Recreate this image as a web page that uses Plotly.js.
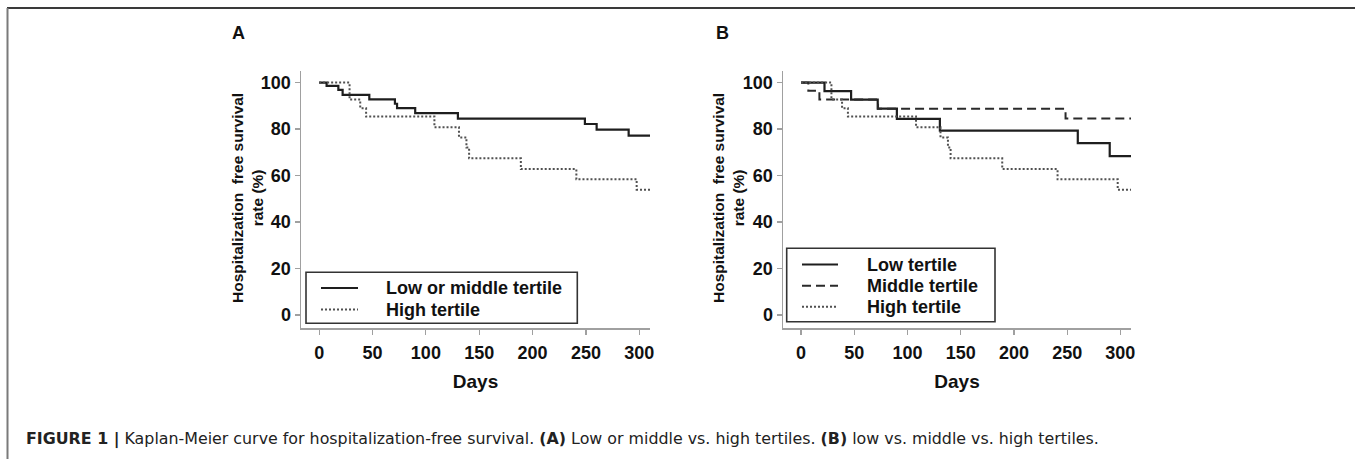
<!DOCTYPE html>
<html>
<head>
<meta charset="utf-8">
<script src="https://cdn.plot.ly/plotly-3.0.1.min.js"></script>
<style>
  html, body { margin: 0; padding: 0; background: #ffffff; }
  #chart { width: 1355px; height: 459px; }
</style>
</head>
<body>
<div id="chart"></div>
<script>
// ---------- Data ----------
// Panel A
const daysLowMid = [0, 7, 18, 22, 47, 71, 73, 90, 130, 249, 260, 290, 310];
const survLowMid = [100, 98.6, 96.9, 94.7, 92.8, 90.9, 89.0, 86.9, 84.5, 82.2, 79.8, 77.2, 77.2];
const daysHigh = [0, 28.5, 38.5, 44, 108, 131, 138, 140.5, 189, 241, 297.5, 310];
const survHigh = [100, 92.7, 89.0, 85.4, 80.8, 76.4, 72.1, 67.4, 62.8, 58.4, 53.9, 53.9];
// Panel B
const daysLow = [0, 22, 47, 72, 90, 130.4, 260, 290, 310];
const survLow = [100, 96.3, 92.7, 88.8, 84.4, 79.3, 74.0, 68.4, 68.4];
const daysMid = [0, 6.8, 17.2, 72.3, 248.5, 310];
const survMid = [100, 96.5, 92.7, 88.8, 84.6, 84.6];

const xTicks = [0, 50, 100, 150, 200, 250, 300];
const yTicks = [0, 20, 40, 60, 80, 100];
const namesA = ['Low or middle tertile', 'High tertile'];
const namesB = ['Low tertile', 'Middle tertile', 'High tertile'];
const xTitle = 'Days';
const yTitle = 'Hospitalization&nbsp; free survival<br>rate (%)';
const caption = '<b>FIGURE 1 |</b> Kaplan-Meier curve for hospitalization-free survival. <b>(A)</b> Low or middle vs. high tertiles. <b>(B)</b> low vs. middle vs. high tertiles.';

// ---------- Layout helpers ----------
const W = 1355, H = 459;
const px = v => v / W;
const py = v => 1 - v / H;
const FONT = 'Arial, "Liberation Sans", Helvetica, sans-serif';
const CAPFONT = '"DejaVu Sans", Verdana, sans-serif';

const SOLID = {color: '#1e1e1e', width: 2.2, dash: 'solid'};
const DOT = {color: '#505050', width: 2, dash: '2px,2px'};
const DASH = {color: '#2a2a2a', width: 2, dash: '9px,5px'};

function km(x, y, name, line, xa, ya) {
  return {x: x, y: y, name: name, type: 'scatter', mode: 'lines',
          line: Object.assign({shape: 'hv'}, line), xaxis: xa, yaxis: ya,
          hoverinfo: 'x+y+name'};
}

const traces = [
  km(daysLowMid, survLowMid, namesA[0], SOLID, 'x', 'y'),
  km(daysHigh, survHigh, namesA[1], DOT, 'x', 'y'),
  km(daysLow, survLow, namesB[0], SOLID, 'x2', 'y2'),
  km(daysMid, survMid, namesB[1], DASH, 'x2', 'y2'),
  km(daysHigh, survHigh, namesB[2], DOT, 'x2', 'y2')
];

const axisCommon = {
  showline: true, linecolor: '#a0a0a0', linewidth: 1.5,
  ticks: 'outside', ticklen: 5, tickwidth: 1.2, tickcolor: '#a0a0a0',
  showgrid: false, zeroline: false, fixedrange: true,
  tickfont: {family: FONT, size: 18, weight: 'bold', color: '#111'}
};
const xCommon = Object.assign({}, axisCommon, {
  range: [-17, 310], tickvals: xTicks, ticktext: xTicks.map(String), ticklabelstandoff: 3,
  title: {text: xTitle, font: {family: FONT, size: 19, weight: 'bold', color: '#111'}, standoff: 12}
});
const yCommon = Object.assign({}, axisCommon, {
  range: [-5.6, 105], tickvals: yTicks, ticktext: yTicks.map(String)
});
const yDom = [py(328), py(71)];

const shapes = [];
const annotations = [];

// Panel letters
annotations.push({xref: 'paper', yref: 'paper', x: px(238), y: py(33), text: '<b>A</b>', showarrow: false,
  font: {family: FONT, size: 18, color: '#111'}, xanchor: 'center', yanchor: 'middle'});
annotations.push({xref: 'paper', yref: 'paper', x: px(722), y: py(33), text: '<b>B</b>', showarrow: false,
  font: {family: FONT, size: 18, color: '#111'}, xanchor: 'center', yanchor: 'middle'});

// Y titles
[247, 728].forEach(cx => {
  annotations.push({xref: 'paper', yref: 'paper', x: px(cx), y: py(198), text: yTitle, textangle: -90,
    showarrow: false, font: {family: FONT, size: 15.5, weight: 'bold', color: '#111'},
    xanchor: 'center', yanchor: 'middle', align: 'center'});
});

// Manual legends
function legend(box, sx0, sx1, tx, rows, names, lines) {
  shapes.push({type: 'rect', xref: 'paper', yref: 'paper', x0: px(box[0]), x1: px(box[1]), y0: py(box[2]), y1: py(box[3]),
    line: {color: '#333', width: 1.6}, fillcolor: 'rgba(255,255,255,1)', layer: 'above'});
  names.forEach((n, i) => {
    shapes.push({type: 'line', xref: 'paper', yref: 'paper', x0: px(sx0), x1: px(sx1), y0: py(rows[i]), y1: py(rows[i]),
      line: {color: lines[i].color, width: lines[i].width, dash: lines[i].dash}, layer: 'above'});
    annotations.push({xref: 'paper', yref: 'paper', x: px(tx), y: py(rows[i]), text: n, showarrow: false,
      xanchor: 'left', yanchor: 'middle', font: {family: FONT, size: 18, weight: 'bold', color: '#111'}});
  });
}
legend([306, 577.3, 272.3, 323.3], 321, 358, 384, [288, 309.5], namesA, [SOLID, DOT]);
legend([786.7, 995, 248.3, 321.7], 802, 838, 865, [264.5, 285.7, 306.7], namesB, [SOLID, DASH, DOT]);

// Frame lines
shapes.push({type: 'line', xref: 'paper', yref: 'paper', x0: px(7), x1: px(1355), y0: py(8), y1: py(8),
  line: {color: '#3a3a3a', width: 2}});
shapes.push({type: 'line', xref: 'paper', yref: 'paper', x0: px(7.5), x1: px(7.5), y0: py(8), y1: py(459),
  line: {color: '#7a7a7a', width: 2}});

// Caption
annotations.push({xref: 'paper', yref: 'paper', x: px(24), y: py(439), text: caption, showarrow: false,
  xanchor: 'left', yanchor: 'middle', font: {family: CAPFONT, size: 15.85, color: '#222'}});

const layout = {
  width: W, height: H,
  margin: {l: 0, r: 0, t: 0, b: 0, pad: 0},
  paper_bgcolor: '#ffffff', plot_bgcolor: 'rgba(0,0,0,0)',
  showlegend: false,
  font: {family: FONT, color: '#111'},
  xaxis: Object.assign({}, xCommon, {domain: [px(301), px(650)], anchor: 'y'}),
  yaxis: Object.assign({}, yCommon, {domain: yDom, anchor: 'x'}),
  xaxis2: Object.assign({}, xCommon, {domain: [px(783), px(1131)], anchor: 'y2'}),
  yaxis2: Object.assign({}, yCommon, {domain: yDom, anchor: 'x2'}),
  shapes: shapes,
  annotations: annotations
};

Plotly.newPlot('chart', traces, layout, {displayModeBar: false, staticPlot: true});
</script>
</body>
</html>
